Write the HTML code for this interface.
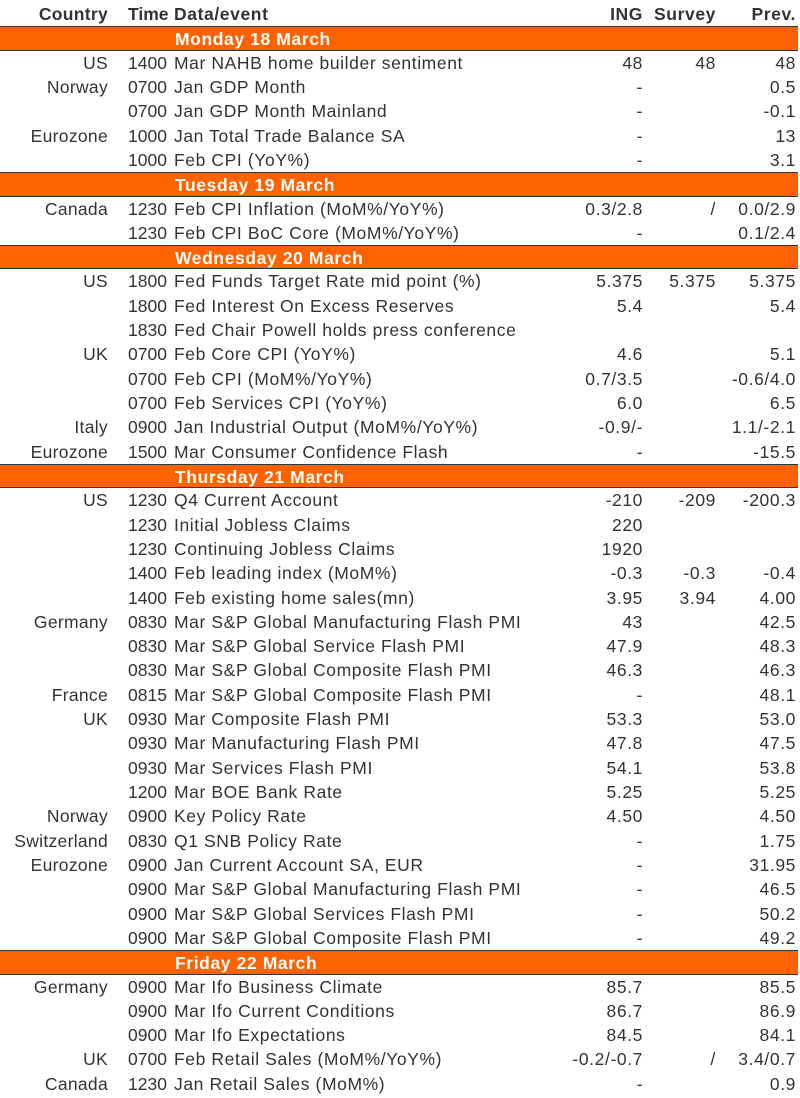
<!DOCTYPE html>
<html><head><meta charset="utf-8"><style>
body{margin:0;width:800px;height:1098px;background:#fff;font-family:"Liberation Sans",sans-serif;font-size:17.5px;letter-spacing:0.6px;color:#333;overflow:hidden}
.w{position:absolute;top:2px;left:0;width:798px}
.r{position:relative;height:24.32px;line-height:24.32px;white-space:nowrap}
.r span{position:absolute;top:0}
.c{right:690px;text-align:right;letter-spacing:0.3px}
.t{left:128px;letter-spacing:0}
.d{left:174px}
.i{right:155px}
.s{right:82px}
.p{right:2px}
.h{color:#333;font-weight:bold}
.b{background:#ff6200;color:#fff;font-weight:bold;border-top:1px solid #333;border-bottom:1px solid #333;box-sizing:border-box}
.b span{left:175px}
</style></head><body><div class="w">
<div class="r h"><span class="c">Country</span><span class="t">Time</span><span class="d">Data/event</span><span class="i">ING</span><span class="s">Survey</span><span class="p">Prev.</span></div>
<div class="r b"><span>Monday 18 March</span></div>
<div class="r"><span class="c">US</span><span class="t">1400</span><span class="d">Mar NAHB home builder sentiment</span><span class="i">48</span><span class="s">48</span><span class="p">48</span></div>
<div class="r"><span class="c">Norway</span><span class="t">0700</span><span class="d">Jan GDP Month</span><span class="i">-</span><span class="p">0.5</span></div>
<div class="r"><span class="t">0700</span><span class="d">Jan GDP Month Mainland</span><span class="i">-</span><span class="p">-0.1</span></div>
<div class="r"><span class="c">Eurozone</span><span class="t">1000</span><span class="d">Jan Total Trade Balance SA</span><span class="i">-</span><span class="p">13</span></div>
<div class="r"><span class="t">1000</span><span class="d">Feb CPI (YoY%)</span><span class="i">-</span><span class="p">3.1</span></div>
<div class="r b"><span>Tuesday 19 March</span></div>
<div class="r"><span class="c">Canada</span><span class="t">1230</span><span class="d">Feb CPI Inflation (MoM%/YoY%)</span><span class="i">0.3/2.8</span><span class="s">/</span><span class="p">0.0/2.9</span></div>
<div class="r"><span class="t">1230</span><span class="d">Feb CPI BoC Core (MoM%/YoY%)</span><span class="i">-</span><span class="p">0.1/2.4</span></div>
<div class="r b"><span>Wednesday 20 March</span></div>
<div class="r"><span class="c">US</span><span class="t">1800</span><span class="d">Fed Funds Target Rate mid point (%)</span><span class="i">5.375</span><span class="s">5.375</span><span class="p">5.375</span></div>
<div class="r"><span class="t">1800</span><span class="d">Fed Interest On Excess Reserves</span><span class="i">5.4</span><span class="p">5.4</span></div>
<div class="r"><span class="t">1830</span><span class="d">Fed Chair Powell holds press conference</span></div>
<div class="r"><span class="c">UK</span><span class="t">0700</span><span class="d">Feb Core CPI (YoY%)</span><span class="i">4.6</span><span class="p">5.1</span></div>
<div class="r"><span class="t">0700</span><span class="d">Feb CPI (MoM%/YoY%)</span><span class="i">0.7/3.5</span><span class="p">-0.6/4.0</span></div>
<div class="r"><span class="t">0700</span><span class="d">Feb Services CPI (YoY%)</span><span class="i">6.0</span><span class="p">6.5</span></div>
<div class="r"><span class="c">Italy</span><span class="t">0900</span><span class="d">Jan Industrial Output (MoM%/YoY%)</span><span class="i">-0.9/-</span><span class="p">1.1/-2.1</span></div>
<div class="r"><span class="c">Eurozone</span><span class="t">1500</span><span class="d">Mar Consumer Confidence Flash</span><span class="i">-</span><span class="p">-15.5</span></div>
<div class="r b"><span>Thursday 21 March</span></div>
<div class="r"><span class="c">US</span><span class="t">1230</span><span class="d">Q4 Current Account</span><span class="i">-210</span><span class="s">-209</span><span class="p">-200.3</span></div>
<div class="r"><span class="t">1230</span><span class="d">Initial Jobless Claims</span><span class="i">220</span></div>
<div class="r"><span class="t">1230</span><span class="d">Continuing Jobless Claims</span><span class="i">1920</span></div>
<div class="r"><span class="t">1400</span><span class="d">Feb leading index (MoM%)</span><span class="i">-0.3</span><span class="s">-0.3</span><span class="p">-0.4</span></div>
<div class="r"><span class="t">1400</span><span class="d">Feb existing home sales(mn)</span><span class="i">3.95</span><span class="s">3.94</span><span class="p">4.00</span></div>
<div class="r"><span class="c">Germany</span><span class="t">0830</span><span class="d">Mar S&amp;P Global Manufacturing Flash PMI</span><span class="i">43</span><span class="p">42.5</span></div>
<div class="r"><span class="t">0830</span><span class="d">Mar S&amp;P Global Service Flash PMI</span><span class="i">47.9</span><span class="p">48.3</span></div>
<div class="r"><span class="t">0830</span><span class="d">Mar S&amp;P Global Composite Flash PMI</span><span class="i">46.3</span><span class="p">46.3</span></div>
<div class="r"><span class="c">France</span><span class="t">0815</span><span class="d">Mar S&amp;P Global Composite Flash PMI</span><span class="i">-</span><span class="p">48.1</span></div>
<div class="r"><span class="c">UK</span><span class="t">0930</span><span class="d">Mar Composite Flash PMI</span><span class="i">53.3</span><span class="p">53.0</span></div>
<div class="r"><span class="t">0930</span><span class="d">Mar Manufacturing Flash PMI</span><span class="i">47.8</span><span class="p">47.5</span></div>
<div class="r"><span class="t">0930</span><span class="d">Mar Services Flash PMI</span><span class="i">54.1</span><span class="p">53.8</span></div>
<div class="r"><span class="t">1200</span><span class="d">Mar BOE Bank Rate</span><span class="i">5.25</span><span class="p">5.25</span></div>
<div class="r"><span class="c">Norway</span><span class="t">0900</span><span class="d">Key Policy Rate</span><span class="i">4.50</span><span class="p">4.50</span></div>
<div class="r"><span class="c">Switzerland</span><span class="t">0830</span><span class="d">Q1 SNB Policy Rate</span><span class="i">-</span><span class="p">1.75</span></div>
<div class="r"><span class="c">Eurozone</span><span class="t">0900</span><span class="d">Jan Current Account SA, EUR</span><span class="i">-</span><span class="p">31.95</span></div>
<div class="r"><span class="t">0900</span><span class="d">Mar S&amp;P Global Manufacturing Flash PMI</span><span class="i">-</span><span class="p">46.5</span></div>
<div class="r"><span class="t">0900</span><span class="d">Mar S&amp;P Global Services Flash PMI</span><span class="i">-</span><span class="p">50.2</span></div>
<div class="r"><span class="t">0900</span><span class="d">Mar S&amp;P Global Composite Flash PMI</span><span class="i">-</span><span class="p">49.2</span></div>
<div class="r b"><span>Friday 22 March</span></div>
<div class="r"><span class="c">Germany</span><span class="t">0900</span><span class="d">Mar Ifo Business Climate</span><span class="i">85.7</span><span class="p">85.5</span></div>
<div class="r"><span class="t">0900</span><span class="d">Mar Ifo Current Conditions</span><span class="i">86.7</span><span class="p">86.9</span></div>
<div class="r"><span class="t">0900</span><span class="d">Mar Ifo Expectations</span><span class="i">84.5</span><span class="p">84.1</span></div>
<div class="r"><span class="c">UK</span><span class="t">0700</span><span class="d">Feb Retail Sales (MoM%/YoY%)</span><span class="i">-0.2/-0.7</span><span class="s">/</span><span class="p">3.4/0.7</span></div>
<div class="r"><span class="c">Canada</span><span class="t">1230</span><span class="d">Jan Retail Sales (MoM%)</span><span class="i">-</span><span class="p">0.9</span></div>
</div></body></html>
